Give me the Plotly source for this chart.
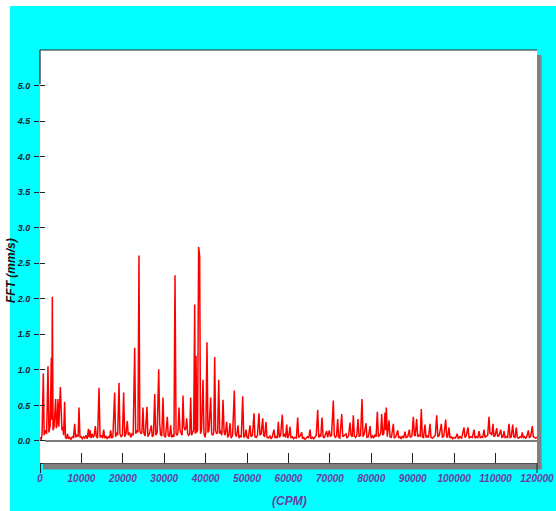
import plotly.graph_objects as go

# ---------------- data ----------------
freq_cpm = [
    0, 300, 500, 800, 1000, 1300, 1600, 1930, 2150, 2450, 2730, 2850, 2980, 3150, 3400, 3780,
    3950, 4150, 4350, 4550, 4910, 5100, 5300, 5500, 5700, 5950, 6150, 6400, 6650, 6900, 7200,
    7500, 7800, 8100, 8370, 8600, 8900, 9200, 9420, 9650, 9900, 10200, 10500, 10800, 11100,
    11400, 11700, 11900, 12100, 12350, 12600, 12850, 13100, 13360, 13600, 13900, 14250, 14500,
    14800, 15100, 15380, 15600, 15900, 16200, 16500, 16800, 17060, 17300, 17600, 18030, 18250,
    18500, 18750, 19080, 19300, 19600, 19900, 20200, 20450, 20750, 21080, 21300, 21600, 21900,
    22200, 22500, 22860, 23100, 23400, 23650, 23900, 24100, 24350, 24600, 24870, 25100, 25400,
    25830, 26050, 26400, 26880, 27100, 27400, 27700, 27950, 28300, 28660, 28900, 29100, 29400,
    29700, 29950, 30300, 30740, 30950, 31250, 31550, 31800, 32100, 32350, 32600, 32850, 33100,
    33300, 33560, 33800, 34100, 34300, 34530, 34750, 35000, 35200, 35420, 35650, 35900, 36150,
    36380, 36600, 36850, 37100, 37350, 37500, 37670, 37850, 38050, 38300, 38550, 38750, 39000,
    39360, 39600, 39850, 40050, 40320, 40550, 40800, 41210, 41450, 41700, 41950, 42180, 42400,
    42650, 42900, 43150, 43400, 43650, 43900, 44190, 44450, 44700, 45080, 45300, 45600, 45880,
    46150, 46500, 46920, 47150, 47450, 47810, 48050, 48350, 48600, 48940, 49200, 49500, 49740,
    50000, 50300, 50700, 50950, 51300, 51670, 51900, 52200, 52500, 52880, 53100, 53400, 53770,
    54000, 54250, 54570, 54800, 55100, 55500, 55800, 56100, 56500, 56750, 57050, 57300, 57540,
    57800, 58100, 58500, 58750, 59000, 59300, 59570, 59800, 60100, 60360, 60600, 60900, 61200,
    61500, 61900, 62220, 62450, 62800, 63190, 63400, 63700, 64000, 64300, 64600, 64900, 65190,
    65450, 65800, 66100, 66400, 66700, 67050, 67300, 67600, 67800, 68090, 68350, 68600, 68900,
    69210, 69450, 69850, 70100, 70400, 70820, 71050, 71300, 71600, 71880, 72100, 72400, 72850,
    73100, 73400, 73880, 74100, 74500, 74850, 75100, 75400, 75650, 75900, 76200, 76500, 76780,
    77050, 77400, 77750, 78000, 78300, 78720, 78950, 79300, 79680, 79950, 80300, 80600, 80900,
    81150, 81450, 81700, 82000, 82250, 82500, 82750, 83000, 83300, 83450, 83620, 83850, 84270,
    84500, 84850, 85310, 85550, 85900, 86370, 86600, 86900, 87200, 87500, 87800, 88130, 88400,
    88800, 89170, 89400, 89800, 90140, 90400, 90600, 90940, 91200, 91500, 91800, 92070, 92300,
    92600, 92960, 93200, 93500, 93800, 94170, 94400, 94800, 95100, 95450, 95780, 96050, 96400,
    96900, 97150, 97500, 97960, 98200, 98450, 98750, 99000, 99300, 99600, 99900, 100300, 100760,
    101000, 101400, 101800, 102380, 102600, 102900, 103340, 103600, 104000, 104400, 104790,
    105050, 105400, 105700, 106000, 106300, 106600, 106900, 107210, 107450, 107800, 108100,
    108410, 108650, 108900, 109100, 109380, 109600, 109900, 110270, 110500, 110850, 111240,
    111500, 111800, 112040, 112300, 112600, 112900, 113240, 113500, 113800, 114130, 114400,
    114700, 115010, 115250, 115600, 115900, 116200, 116460, 116700, 117000, 117300, 117600,
    117900, 118150, 118450, 118870, 119100, 119400, 119690, 120000,
]
amp_mms = [
    0.05, 0.02, 0.10, 0.95, 0.08, 0.15, 0.10, 1.05, 0.12, 0.22, 1.17, 0.30, 2.03, 0.15, 0.20, 0.59,
    0.18, 0.25, 0.59, 0.20, 0.76, 0.30, 0.15, 0.20, 0.08, 0.55, 0.05, 0.03, 0.10, 0.03, 0.05,
    0.02, 0.06, 0.05, 0.24, 0.05, 0.08, 0.06, 0.47, 0.05, 0.06, 0.03, 0.06, 0.04, 0.08,
    0.03, 0.17, 0.05, 0.15, 0.04, 0.10, 0.05, 0.08, 0.21, 0.06, 0.04, 0.75, 0.05,
    0.08, 0.04, 0.16, 0.04, 0.07, 0.03, 0.06, 0.04, 0.15, 0.04, 0.06, 0.68, 0.06,
    0.12, 0.08, 0.82, 0.10, 0.06, 0.08, 0.68, 0.06, 0.10, 0.28, 0.08, 0.12, 0.05,
    0.10, 0.08, 1.31, 0.10, 0.15, 0.12, 2.61, 0.15, 0.10, 0.12, 0.47, 0.10, 0.07,
    0.48, 0.06, 0.10, 0.22, 0.06, 0.08, 0.66, 0.08, 0.12, 1.01, 0.25, 0.09, 0.07,
    0.61, 0.08, 0.05, 0.34, 0.08, 0.06, 0.22, 0.05, 0.08, 0.06, 2.33, 0.10, 0.08,
    0.12, 0.47, 0.15, 0.10, 0.08, 0.64, 0.20, 0.15, 0.18, 0.32, 0.10, 0.08, 0.10,
    0.61, 0.08, 0.12, 0.15, 1.92, 0.10, 1.20, 0.12, 0.15, 2.73, 2.60, 0.10, 0.15,
    0.86, 0.10, 0.05, 0.12, 1.39, 0.12, 0.15, 0.61, 0.10, 0.08, 0.12, 1.18, 0.15,
    0.10, 0.12, 0.86, 0.10, 0.15, 0.08, 0.58, 0.12, 0.08, 0.27, 0.05, 0.08, 0.25,
    0.04, 0.08, 0.71, 0.10, 0.06, 0.22, 0.04, 0.08, 0.05, 0.63, 0.05, 0.07, 0.16,
    0.05, 0.04, 0.22, 0.06, 0.08, 0.39, 0.06, 0.05, 0.08, 0.39, 0.08, 0.10, 0.32,
    0.08, 0.06, 0.27, 0.05, 0.04, 0.07, 0.03, 0.06, 0.16, 0.04, 0.06, 0.04, 0.27,
    0.05, 0.08, 0.37, 0.06, 0.10, 0.05, 0.23, 0.04, 0.08, 0.20, 0.04, 0.06, 0.03,
    0.05, 0.04, 0.33, 0.05, 0.07, 0.12, 0.03, 0.05, 0.02, 0.04, 0.06, 0.04, 0.16,
    0.03, 0.05, 0.03, 0.06, 0.08, 0.44, 0.05, 0.08, 0.06, 0.33, 0.06, 0.04, 0.08,
    0.14, 0.05, 0.15, 0.06, 0.08, 0.57, 0.08, 0.05, 0.07, 0.31, 0.05, 0.04, 0.38,
    0.06, 0.08, 0.10, 0.04, 0.07, 0.26, 0.08, 0.06, 0.36, 0.07, 0.05, 0.08, 0.31,
    0.06, 0.08, 0.59, 0.06, 0.10, 0.25, 0.05, 0.06, 0.21, 0.04, 0.07, 0.04, 0.09,
    0.06, 0.41, 0.06, 0.08, 0.10, 0.38, 0.08, 0.10, 0.40, 0.15, 0.47, 0.06, 0.29,
    0.06, 0.05, 0.24, 0.04, 0.06, 0.15, 0.04, 0.06, 0.03, 0.07, 0.04, 0.13, 0.05,
    0.06, 0.16, 0.05, 0.07, 0.34, 0.08, 0.07, 0.31, 0.06, 0.08, 0.07, 0.45, 0.06,
    0.05, 0.23, 0.05, 0.07, 0.05, 0.24, 0.05, 0.04, 0.06, 0.08, 0.36, 0.06, 0.08,
    0.24, 0.05, 0.07, 0.30, 0.05, 0.06, 0.19, 0.04, 0.06, 0.03, 0.05, 0.04, 0.10,
    0.03, 0.06, 0.04, 0.19, 0.05, 0.07, 0.19, 0.04, 0.06, 0.05, 0.16,
    0.04, 0.06, 0.04, 0.14, 0.04, 0.06, 0.05, 0.16, 0.05, 0.07, 0.08,
    0.34, 0.10, 0.12, 0.08, 0.24, 0.06, 0.08, 0.18, 0.06, 0.08, 0.16,
    0.05, 0.06, 0.14, 0.04, 0.06, 0.05, 0.24, 0.05, 0.06, 0.23, 0.06,
    0.05, 0.19, 0.05, 0.04, 0.06, 0.05, 0.12, 0.04, 0.06, 0.04, 0.07,
    0.15, 0.05, 0.06, 0.21, 0.06, 0.05, 0.04, 0.05,
]
y_tick_vals = [0.0, 0.5, 1.0, 1.5, 2.0, 2.5, 3.0, 3.5, 4.0, 4.5, 5.0]
y_tick_text = ["0.0", "0.5", "1.0", "1.5", "2.0", "2.5", "3.0", "3.5", "4.0", "4.5", "5.0"]
x_tick_vals = [0, 10000, 20000, 30000, 40000, 50000, 60000, 70000, 80000, 90000,
               100000, 110000, 120000]
x_tick_text = [str(v) for v in x_tick_vals]
y_title = "FFT (mm/s)"
x_title = "(CPM)"

# ---------------- layout geometry ----------------
W, H = 556, 511
L, R, T, B = 40, 537, 50, 463
PW, PH = R - L, B - T


def xp(px):
    return (px - L) / PW


def yp(py):
    return (B - py) / PH


FONT = "Liberation Sans Narrow, Arial Narrow, Liberation Sans, Arial, sans-serif"
NAVY = "#1e2436"
PURPLE = "#6a3ca2"

fig = go.Figure()
fig.add_trace(go.Scatter(x=freq_cpm, y=amp_mms, mode="lines",
                         line=dict(color="#ff0000", width=1.5),
                         hoverinfo="skip", showlegend=False))
# empty trace to materialise the overlaid axis carrying the inner tick dashes
fig.add_trace(go.Scatter(x=[], y=[], yaxis="y2", showlegend=False, hoverinfo="skip"))

shapes = [
    # white strips of the page border
    dict(type="rect", xref="paper", yref="paper", x0=xp(-2), x1=xp(W + 2), y0=yp(6), y1=yp(-2),
         fillcolor="white", line=dict(width=0), layer="below"),
    dict(type="rect", xref="paper", yref="paper", x0=xp(-2), x1=xp(10), y0=yp(H + 2), y1=yp(-2),
         fillcolor="white", line=dict(width=0), layer="below"),
    # shadow of the plot frame
    dict(type="rect", xref="paper", yref="paper", x0=xp(R), x1=xp(R + 4.5), y0=yp(469), y1=yp(55),
         fillcolor="#808080", line=dict(width=0), layer="above"),
    dict(type="rect", xref="paper", yref="paper", x0=xp(43), x1=xp(R + 4.5), y0=yp(469.5), y1=yp(B + 0.5),
         fillcolor="#808080", line=dict(width=0), layer="above"),
    # frame top and upper-left edge
    dict(type="line", xref="paper", yref="paper", x0=xp(L), x1=xp(R), y0=1, y1=1,
         line=dict(color="#1a2a2a", width=1.2), layer="above"),
    dict(type="line", xref="paper", yref="paper", x0=xp(L), x1=xp(L), y0=1, y1=yp(84),
         line=dict(color="#1a2a2a", width=1.2), layer="above"),
    # end ticks below the x axis
    dict(type="line", xref="paper", yref="paper", x0=xp(L + 0.5), x1=xp(L + 0.5), y0=yp(B), y1=yp(473),
         line=dict(color="#222", width=1), layer="above"),
    dict(type="line", xref="paper", yref="paper", x0=xp(R), x1=xp(R), y0=yp(B), y1=yp(473),
         line=dict(color="#222", width=1), layer="above"),
    # zero line of the spectrum
    dict(type="line", xref="x", yref="y", x0=1200, x1=120000, y0=0, y1=0,
         line=dict(color="#505050", width=1.5), layer="below"),
]

fig.update_layout(
    width=W, height=H,
    margin=dict(l=L, r=W - R, t=T, b=H - B, pad=0, autoexpand=False),
    paper_bgcolor="#00ffff",
    plot_bgcolor="white",
    showlegend=False,
    shapes=shapes,
    xaxis=dict(
        range=[0, 120000], tickmode="array", tickvals=x_tick_vals, ticktext=x_tick_text,
        ticks="inside", ticklen=10, tickwidth=1, tickcolor="#222",
        showline=True, linecolor="#222", linewidth=1.2, mirror=False,
        showgrid=False, zeroline=False, automargin=False,
        tickfont=dict(family=FONT, size=10, color=PURPLE, style="italic", weight="bold"),
        ticklabelstandoff=6, ticklabeloverflow="allow",
        fixedrange=True,
    ),
    yaxis=dict(
        range=[-0.31, 5.50], tickmode="array", tickvals=y_tick_vals, ticktext=y_tick_text,
        ticks="outside", ticklen=5, tickwidth=1, tickcolor="#222",
        showline=False, showgrid=False, zeroline=False, automargin=False,
        tickfont=dict(family=FONT, size=9, color=NAVY, style="italic", weight="bold"),
        ticklabelstandoff=2,
        fixedrange=True,
    ),
    yaxis2=dict(
        range=[-0.31, 5.50], overlaying="y", side="left", anchor="x",
        tickmode="array", tickvals=y_tick_vals, showticklabels=False,
        ticks="inside", ticklen=5, tickwidth=1, tickcolor="#222", automargin=False,
        showline=False, showgrid=False, zeroline=False, fixedrange=True,
    ),
    annotations=[
        dict(text=y_title, xref="paper", yref="paper", x=xp(11), y=yp(271),
             xanchor="center", yanchor="middle", textangle=-90, showarrow=False,
             font=dict(family="Liberation Sans, Arial, sans-serif", size=12, color="#111",
                       style="italic", weight="bold")),
        dict(text=x_title, xref="paper", yref="paper", x=xp(289), y=yp(501),
             xanchor="center", yanchor="middle", showarrow=False,
             font=dict(family=FONT, size=12, color=PURPLE, style="italic", weight="bold")),
    ],
)

fig.write_html("out.html", post_script="document.body.style.margin='0';",
               config={"displayModeBar": False})
